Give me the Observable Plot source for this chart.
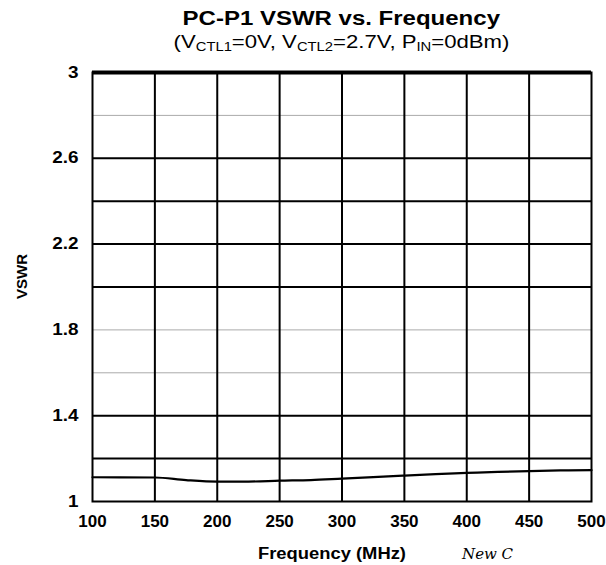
<!DOCTYPE html>
<html>
<head>
<meta charset="utf-8">
<script src="https://cdn.jsdelivr.net/npm/d3@7"></script>
<script src="https://cdn.jsdelivr.net/npm/@observablehq/plot@0.6"></script>
<style>
  html, body { margin: 0; padding: 0; background: #fff; }
  body { width: 606px; height: 565px; position: relative; overflow: hidden; font-family: "Liberation Sans", Arial, sans-serif; }
  #title { position: absolute; left: 0; width: 683px; top: 8px; text-align: center; font-size: 20px; line-height: 20px; font-weight: bold; color: #000; }
  #title span { display: inline-block; transform: scaleX(1.2); }
  #subtitle { position: absolute; left: 0; width: 683px; top: 33px; text-align: center; font-size: 18px; line-height: 18px; color: #000; }
  #subtitle sub { font-size: 12px; vertical-align: -3px; line-height: 0; }
  #subtitle span { display: inline-block; transform: scaleX(1.23); }
  #chart { position: absolute; left: 0; top: 60px; }
  #note { position: absolute; left: 462px; top: 547px; font-family: "DejaVu Serif", serif; font-style: italic; font-size: 15px; line-height: 15px; color: #000; }
</style>
</head>
<body>
<div id="title"><span>PC-P1 VSWR vs. Frequency</span></div>
<div id="subtitle"><span>(V<sub>CTL1</sub>=0V, V<sub>CTL2</sub>=2.7V, P<sub>IN</sub>=0dBm)</span></div>
<div id="chart"></div>
<div id="note">New C</div>
<script>
// Data
const freqMHz = [100, 150, 175, 200, 225, 250, 275, 300, 325, 350, 375, 400, 425, 450, 475, 500];
const vswr    = [1.113, 1.112, 1.100, 1.093, 1.093, 1.097, 1.100, 1.107, 1.114, 1.121, 1.128, 1.133, 1.138, 1.142, 1.145, 1.146];

const xTicks = [100, 150, 200, 250, 300, 350, 400, 450, 500];
const yTicks = [1, 1.4, 1.8, 2.2, 2.6, 3];
const xGrid = [150, 200, 250, 300, 350, 400, 450];
const yGridMajor = [1.2, 1.4, 2.0, 2.2, 2.4, 2.6];
const yGridMinor = [1.6, 1.8, 2.8];
const xTitle = "Frequency (MHz)";
const yTitle = "VSWR";

const data = freqMHz.map((f, i) => ({f, v: vswr[i]}));

const chart = Plot.plot({
  width: 606,
  height: 505,
  marginTop: 12,
  marginBottom: 64,
  marginLeft: 92,
  marginRight: 15,
  style: {fontFamily: "'Liberation Sans', Arial, sans-serif", fontSize: "16px", fontWeight: "bold", color: "#000", background: "#fff"},
  x: {domain: [100, 500]},
  y: {domain: [1, 3]},
  marks: [
    Plot.ruleY(yGridMinor, {stroke: "#aaa", strokeWidth: 1}),
    Plot.ruleY(yGridMajor, {stroke: "#000", strokeWidth: 2}),
    Plot.ruleX(xGrid, {stroke: "#000", strokeWidth: 2}),
    Plot.line(data, {x: "f", y: "v", stroke: "#000", strokeWidth: 2.2, curve: "monotone-x"}),
    Plot.frame({stroke: "#000", strokeWidth: 2}),
    Plot.ruleY([3], {stroke: "#000", strokeWidth: 4}),
    Plot.axisX({ticks: xTicks, tickSize: 0, tickPadding: 13, tickFormat: d => `${d}`, label: null, fontSize: 17, fontWeight: "bold"}),
    Plot.axisY({ticks: yTicks, tickSize: 0, tickPadding: 14, tickFormat: d => `${d}`, label: null, fontSize: 16, fontWeight: "bold"}),
    Plot.text([xTitle], {frameAnchor: "bottom", text: d => d, dx: -10, dy: 57, fontSize: 16, fontWeight: "bold", lineAnchor: "bottom"}),
    Plot.text([yTitle], {frameAnchor: "left", text: d => d, dx: -70, dy: 12, rotate: -90, fontSize: 15, fontWeight: "bold"})
  ]
});
document.getElementById("chart").appendChild(chart);

function stretchEl(t, w) {
  t.setAttribute("textLength", w);
  t.setAttribute("lengthAdjust", "spacingAndGlyphs");
}
chart.querySelectorAll('g[aria-label="y-axis tick label"] text').forEach(t => stretchEl(t, t.getComputedTextLength() * 1.18));
chart.querySelectorAll('text').forEach(t => { if (t.textContent === xTitle) stretchEl(t, 148); });
</script>
</body>
</html>
